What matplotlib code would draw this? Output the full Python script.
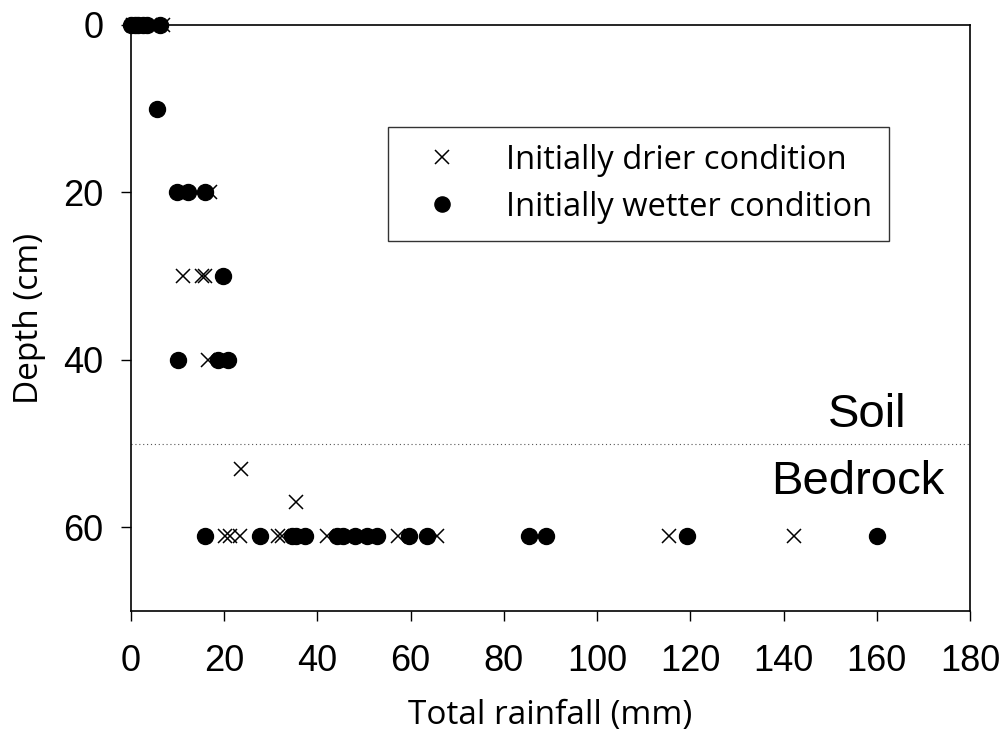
import matplotlib.pyplot as plt

# Profundidad (cm) y lluvia total (mm) hasta la respuesta
seco_lluvia = [0.5, 1.5, 6.8, 16.9, 11.1, 15.2, 15.8, 16.5, 23.6, 35.5,
               20.1, 21.2, 23.3, 31.5, 32.3, 42.0, 57.2, 65.7, 115.4, 142.2]
seco_prof = [0, 0, 0, 20, 30, 30, 30, 40, 53, 57,
             61, 61, 61, 61, 61, 61, 61, 61, 61, 61]

humedo_lluvia = [0, 0.8, 1.6, 2.5, 3.5, 6.2, 5.6, 9.9, 12.2, 15.8, 19.7,
                 10.1, 18.6, 20.8, 15.8, 27.6, 34.5, 35.5, 37.3, 44.1, 45.4,
                 48.0, 50.7, 52.7, 59.7, 63.6, 85.4, 89.1, 119.3, 160.0]
humedo_prof = [0, 0, 0, 0, 0, 0, 10, 20, 20, 20, 30,
               40, 40, 40, 61, 61, 61, 61, 61, 61, 61,
               61, 61, 61, 61, 61, 61, 61, 61, 61]

limite_suelo = 50

fig = plt.figure(figsize=(10.05, 7.43), dpi=100)
ax = fig.add_axes([0.1303, 0.1777, 0.8349, 0.7887])

ax.plot(seco_lluvia, seco_prof, 'x', color='black', markersize=10,
        markeredgewidth=1.1, clip_on=False, zorder=3, label='Initially drier condition')
ax.plot(humedo_lluvia, humedo_prof, 'o', color='black', markersize=11.5,
        clip_on=False, zorder=3, label='Initially wetter condition')

# Contacto suelo / roca
ax.axhline(limite_suelo, color='#555555', linestyle=(0, (1, 2.5)), linewidth=0.8)
ax.text(158, 46.6, 'Soil', fontsize=34, family='Liberation Sans', ha='center', va='center')
ax.text(156, 54.6, 'Bedrock', fontsize=34, family='Liberation Sans', ha='center', va='center')

ax.set_xlim(0, 180)
ax.set_ylim(70, 0)
ax.set_xticks(range(0, 181, 20))
ax.set_yticks([0, 20, 40, 60])
ax.tick_params(direction='out', length=7, width=1, labelsize=26)
for lab in ax.get_xticklabels() + ax.get_yticklabels():
    lab.set_family('Liberation Sans')
ax.tick_params(axis='x', pad=17)
ax.tick_params(axis='y', pad=13)
for s in ax.spines.values():
    s.set_linewidth(1.2)

ax.set_xlabel('Total rainfall (mm)', fontsize=24, family='Open Sans', labelpad=14)
ax.set_ylabel('Depth (cm)', fontsize=24, family='Open Sans', labelpad=12)

leg = ax.legend(loc='upper left', bbox_to_anchor=(0.3063, 0.826), borderaxespad=0,
                prop={'family': 'Open Sans', 'size': 23.5}, frameon=True, fancybox=False,
                edgecolor='black', handletextpad=0.8, borderpad=0.52, labelspacing=0.42,
                handlelength=2.3, markerscale=0.95)
leg.get_frame().set_linewidth(1.0)

plt.savefig('out.png', dpi=100)
